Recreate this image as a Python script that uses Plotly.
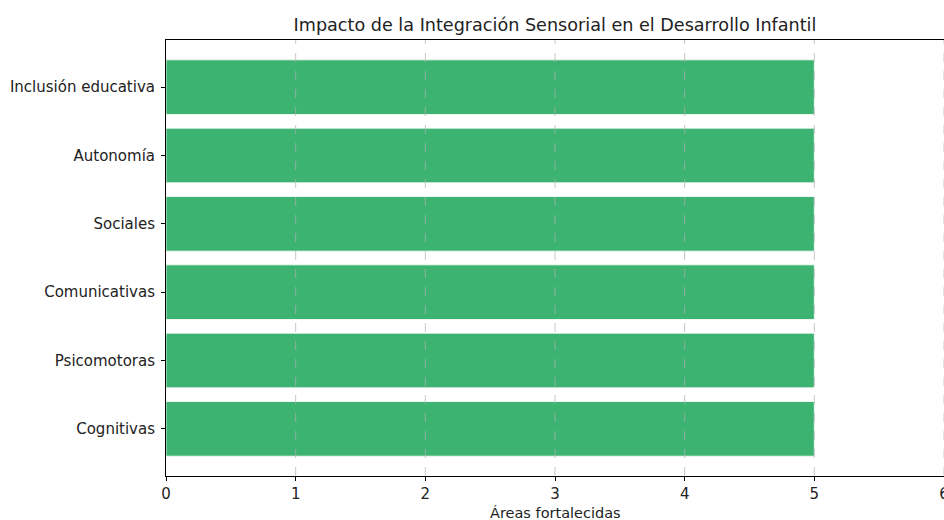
import plotly.graph_objects as go

categories = ["Cognitivas", "Psicomotoras", "Comunicativas", "Sociales", "Autonomía", "Inclusión educativa"]
values = [5, 5, 5, 5, 5, 5]
x_ticks = [0, 1, 2, 3, 4, 5, 6]
x_title = "Áreas fortalecidas"

font = "DejaVu Sans"
W, H = 944, 520
L, T, B = 166, 40, 44

fig = go.Figure(go.Bar(
    y=categories,
    x=values,
    orientation="h",
    width=0.8,
    marker=dict(color="#3CB371", line=dict(color="white", width=0.8)),
))

for t in x_ticks[1:]:
    fig.add_shape(type="line", xref="x", yref="paper", x0=t, x1=t, y0=0, y1=1,
                  line=dict(color="rgba(176,176,176,0.7)", width=1, dash="dash"), layer="above")

fig.add_annotation(text=x_title, xref="x domain", yref="paper", x=0.5, y=0,
                   yshift=-37, xanchor="center", yanchor="middle", showarrow=False,
                   font=dict(family=font, size=14.5, color="#222222"))

fig.update_layout(
    width=W, height=H,
    margin=dict(l=L, r=0, t=T, b=B),
    paper_bgcolor="white", plot_bgcolor="white",
    font=dict(family=font, size=15, color="#222222"),
    showlegend=False,
    title=dict(text="Impacto de la Integración Sensorial en el Desarrollo Infantil",
               x=(L + W) / 2 / W, xanchor="center", y=1 - 25 / H, yanchor="middle",
               font=dict(family=font, size=17.6, color="#222222")),
    xaxis=dict(
        range=[0, 6], tickvals=x_ticks, ticktext=[str(t) for t in x_ticks],
        showgrid=False, automargin=False, ticklabeloverflow="allow",
        showline=True, linecolor="black", linewidth=1, mirror=True,
        ticks="outside", ticklen=4, tickcolor="black",
        zeroline=False,
    ),
    yaxis=dict(
        range=[-0.69, 5.69], automargin=False,
        showgrid=False, showline=True, linecolor="black", linewidth=1,
        ticks="outside", ticklen=4, tickcolor="black", ticklabelstandoff=3,
        zeroline=False,
    ),
)

fig.write_html(
    "out.html",
    config={"displayModeBar": False},
    post_script=(
        "document.documentElement.style.overflow='hidden';"
        "document.body.style.overflow='hidden';"
        "document.body.style.margin='0';"
        "document.body.style.padding='0';"
    ),
)
